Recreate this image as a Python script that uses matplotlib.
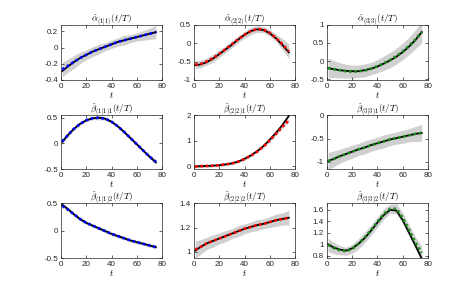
import matplotlib
matplotlib.use('Agg')
import matplotlib.pyplot as plt
import numpy as np

plt.rcParams['mathtext.fontset'] = 'cm'
plt.rcParams['font.family'] = 'Liberation Sans'

# time grid
t = [1, 5, 10, 15, 20, 25, 30, 35, 40, 45, 50, 55, 60, 65, 70, 75]

# alpha (1|1)
a1_true = [-0.29, -0.24, -0.18, -0.13, -0.09, -0.05, -0.02, 0.01, 0.04, 0.07, 0.09, 0.11, 0.13, 0.15, 0.17, 0.19]
a1_est = [-0.27, -0.23, -0.18, -0.13, -0.09, -0.05, -0.02, 0.01, 0.04, 0.07, 0.09, 0.11, 0.13, 0.15, 0.17, 0.19]
a1_hw = [0.09, 0.08, 0.08, 0.07, 0.06, 0.06, 0.06, 0.05, 0.05, 0.05, 0.06, 0.05, 0.05, 0.06, 0.07, 0.08]
# alpha (2|2)
a2_true = [-0.60, -0.58, -0.52, -0.42, -0.30, -0.17, -0.04, 0.10, 0.23, 0.33, 0.38, 0.36, 0.27, 0.13, -0.05, -0.25]
a2_est = [-0.58, -0.57, -0.50, -0.41, -0.29, -0.16, -0.03, 0.11, 0.23, 0.33, 0.39, 0.37, 0.28, 0.14, -0.03, -0.22]
a2_hw = [0.11, 0.10, 0.10, 0.11, 0.10, 0.09, 0.10, 0.09, 0.09, 0.10, 0.09, 0.08, 0.09, 0.10, 0.15, 0.20]
# alpha (3|3)
a3_true = [-0.20, -0.22, -0.25, -0.27, -0.28, -0.28, -0.25, -0.21, -0.15, -0.07, 0.02, 0.12, 0.25, 0.40, 0.58, 0.80]
a3_est = [-0.19, -0.22, -0.25, -0.28, -0.29, -0.28, -0.26, -0.21, -0.14, -0.06, 0.03, 0.14, 0.27, 0.42, 0.60, 0.80]
a3_hw = [0.27, 0.24, 0.21, 0.19, 0.18, 0.17, 0.18, 0.17, 0.18, 0.20, 0.21, 0.22, 0.23, 0.24, 0.26, 0.30]
# beta (1|1)1
b1_true = [0.03, 0.15, 0.28, 0.38, 0.45, 0.49, 0.50, 0.48, 0.42, 0.33, 0.22, 0.10, -0.02, -0.14, -0.26, -0.37]
b1_est = [0.04, 0.15, 0.28, 0.38, 0.45, 0.49, 0.50, 0.48, 0.42, 0.33, 0.22, 0.10, -0.02, -0.14, -0.26, -0.36]
b1_hw = [0.05, 0.04, 0.03, 0.03, 0.03, 0.03, 0.04, 0.03, 0.03, 0.03, 0.03, 0.03, 0.03, 0.03, 0.04, 0.05]
# beta (2|2)1
b2_true = [0.00, 0.01, 0.02, 0.03, 0.05, 0.08, 0.12, 0.19, 0.30, 0.43, 0.60, 0.80, 1.05, 1.32, 1.62, 1.97]
b2_est = [0.00, 0.01, 0.02, 0.03, 0.05, 0.08, 0.12, 0.19, 0.29, 0.42, 0.58, 0.78, 1.02, 1.28, 1.55, 1.80]
b2_hw = [0.05, 0.05, 0.05, 0.05, 0.05, 0.05, 0.05, 0.05, 0.05, 0.05, 0.05, 0.05, 0.05, 0.05, 0.06, 0.06]
# beta (3|3)1
b3_true = [-0.98, -0.94, -0.88, -0.83, -0.78, -0.73, -0.69, -0.64, -0.60, -0.56, -0.52, -0.49, -0.46, -0.43, -0.40, -0.38]
b3_est = [-0.98, -0.94, -0.88, -0.83, -0.78, -0.73, -0.69, -0.64, -0.60, -0.56, -0.52, -0.49, -0.46, -0.43, -0.40, -0.38]
b3_hw = [0.18, 0.17, 0.15, 0.14, 0.14, 0.13, 0.14, 0.13, 0.13, 0.14, 0.13, 0.13, 0.14, 0.14, 0.16, 0.18]
# beta (1|1)2
c1_true = [0.47, 0.40, 0.30, 0.21, 0.14, 0.09, 0.04, -0.01, -0.06, -0.10, -0.14, -0.18, -0.21, -0.24, -0.27, -0.30]
c1_est = [0.45, 0.39, 0.30, 0.21, 0.14, 0.09, 0.04, -0.01, -0.06, -0.10, -0.14, -0.18, -0.21, -0.24, -0.27, -0.30]
c1_hw = [0.04, 0.03, 0.03, 0.03, 0.03, 0.03, 0.03, 0.03, 0.03, 0.03, 0.03, 0.03, 0.03, 0.03, 0.03, 0.03]
# beta (2|2)2
c2_true = [1.01, 1.04, 1.07, 1.09, 1.11, 1.13, 1.15, 1.17, 1.19, 1.205, 1.22, 1.23, 1.245, 1.26, 1.27, 1.28]
c2_est = [1.02, 1.04, 1.07, 1.09, 1.11, 1.13, 1.15, 1.17, 1.19, 1.205, 1.22, 1.23, 1.245, 1.26, 1.27, 1.28]
c2_hw = [0.07, 0.06, 0.05, 0.05, 0.045, 0.045, 0.04, 0.045, 0.04, 0.04, 0.045, 0.04, 0.045, 0.05, 0.05, 0.06]
# beta (3|3)2
c3_true = [1.00, 0.95, 0.91, 0.89, 0.93, 1.01, 1.11, 1.24, 1.38, 1.51, 1.60, 1.59, 1.42, 1.20, 0.98, 0.75]
c3_est = [0.99, 0.94, 0.90, 0.88, 0.92, 1.01, 1.12, 1.25, 1.39, 1.53, 1.62, 1.62, 1.46, 1.25, 1.03, 0.85]
c3_hw = [0.12, 0.10, 0.08, 0.07, 0.08, 0.09, 0.09, 0.09, 0.09, 0.09, 0.08, 0.09, 0.09, 0.09, 0.10, 0.12]

titles = [r'$\hat{\alpha}_{(1|1)}(t/T)$', r'$\hat{\alpha}_{(2|2)}(t/T)$', r'$\hat{\alpha}_{(3|3)}(t/T)$',
          r'$\hat{\beta}_{(1|1)1}(t/T)$', r'$\hat{\beta}_{(2|2)1}(t/T)$', r'$\hat{\beta}_{(3|3)1}(t/T)$',
          r'$\hat{\beta}_{(1|1)2}(t/T)$', r'$\hat{\beta}_{(2|2)2}(t/T)$', r'$\hat{\beta}_{(3|3)2}(t/T)$']
trues = [a1_true, a2_true, a3_true, b1_true, b2_true, b3_true, c1_true, c2_true, c3_true]
ests = [a1_est, a2_est, a3_est, b1_est, b2_est, b3_est, c1_est, c2_est, c3_est]
hws = [a1_hw, a2_hw, a3_hw, b1_hw, b2_hw, b3_hw, c1_hw, c2_hw, c3_hw]
colors = ['blue', 'red', '#1a8a1a'] * 3
ylims = [(-0.4, 0.28), (-1, 0.5), (-0.52, 1), (-0.5, 0.55), (-0.1, 2), (-1.15, 0),
         (-0.5, 0.5), (0.95, 1.4), (0.76, 1.72)]
yticks = [[-0.4, -0.2, 0, 0.2], [-1, -0.5, 0, 0.5], [-0.5, 0, 0.5, 1],
          [-0.5, 0, 0.5], [0, 1, 2], [-1, -0.5, 0],
          [-0.5, 0, 0.5], [1, 1.2, 1.4], [0.8, 1, 1.2, 1.4, 1.6]]

fig = plt.figure(figsize=(4.73, 2.96), dpi=100)
lefts = [0.129, 0.410, 0.691]
bottoms = [0.730, 0.429, 0.128]
heights = [0.186, 0.182, 0.186]
dark = '#262626'

for i in range(9):
    r, c = divmod(i, 3)
    ax = fig.add_axes([lefts[c], bottoms[r], 0.214, heights[r]])
    tr = np.array(trues[i])
    es = np.array(ests[i])
    hw = np.array(hws[i])
    ax.fill_between(t, es - hw, es + hw, color='#d0d0d0', lw=0)
    ax.plot(t, tr, color='black', lw=1.3)
    ax.plot(t, es, color=colors[i], lw=1.9, ls=(0, (1, 1)))
    ax.set_xlim(0, 80)
    ax.set_ylim(*ylims[i])
    ax.set_xticks([0, 20, 40, 60, 80])
    ax.set_yticks(yticks[i])
    ax.set_yticklabels([('%g' % v) for v in yticks[i]])
    ax.tick_params(direction='in', length=2, width=0.5, labelsize=5.8, colors=dark,
                   top=True, right=True, pad=2)
    for s in ax.spines.values():
        s.set_linewidth(0.5)
        s.set_color(dark)
    ax.set_title(titles[i], fontsize=6.5, pad=2)
    ax.set_xlabel('$t$', fontsize=6.5, labelpad=0)

fig.savefig('out.png', dpi=100)
